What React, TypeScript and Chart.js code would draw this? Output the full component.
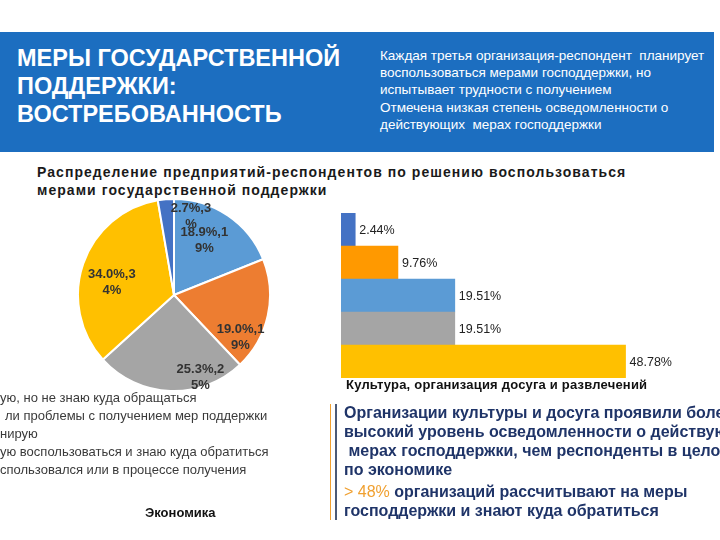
import React, { useEffect, useRef } from "react";
import { Chart, registerables } from "chart.js";

Chart.register(...registerables);

// ---- Data ----
const pieCategories = [
  "Планирую, но не знаю куда обращаться",
  "Были проблемы с получением мер поддержки",
  "Не планирую",
  "Планирую воспользоваться и знаю куда обратиться",
  "Воспользовался или в процессе получения",
];
const pieValues = [18.9, 19.0, 25.3, 34.0, 2.7];
const pieLabelLines = [
  ["18.9%,1", "9%"],
  ["19.0%,1", "9%"],
  ["25.3%,2", "5%"],
  ["34.0%,3", "4%"],
  ["2.7%,3", "%"],
];
const pieColors = ["#5b9bd5", "#ed7d31", "#a5a5a5", "#ffc000", "#4472c4"];

const barCategories = ["a", "b", "c", "d", "e"];
const barValues = [2.44, 9.76, 19.51, 19.51, 48.78];
const barLabels = ["2.44%", "9.76%", "19.51%", "19.51%", "48.78%"];
const barColors = ["#4472c4", "#ff9900", "#5b9bd5", "#a5a5a5", "#ffc000"];

const legendVisibleTexts = [
  "ую, но не знаю куда обращаться",
  "ли проблемы с получением мер поддержки",
  "нирую",
  "ую воспользоваться и знаю куда обратиться",
  "спользовался или в процессе получения",
];

// label placement (style): angle shift in degrees and radius fraction
const PIE_LABEL_SHIFT = [-5, 20, -20, -8, 17];
const PIE_LABEL_RADIUS = [0.65, 0.82, 0.9, 0.66, 0.84];

const pieLabelPlugin = {
  id: "pieLabels",
  afterDatasetsDraw(chart: any) {
    const ctx = chart.ctx;
    const meta = chart.getDatasetMeta(0);
    ctx.save();
    ctx.font = "bold 13px 'Liberation Sans', Arial, sans-serif";
    ctx.fillStyle = "#333333";
    ctx.textAlign = "center";
    ctx.textBaseline = "middle";
    meta.data.forEach((arc: any, i: number) => {
      const p = arc.getProps(["x", "y", "startAngle", "endAngle", "outerRadius"], true);
      const mid = (p.startAngle + p.endAngle) / 2 + (PIE_LABEL_SHIFT[i] * Math.PI) / 180;
      const r = p.outerRadius * PIE_LABEL_RADIUS[i];
      const lx = p.x + Math.cos(mid) * r;
      const ly = p.y + Math.sin(mid) * r;
      const lines = pieLabelLines[i];
      const lh = 16;
      lines.forEach((t, k) => {
        ctx.fillText(t, lx, ly + (k - (lines.length - 1) / 2) * lh);
      });
    });
    ctx.restore();
  },
};

const barLabelPlugin = {
  id: "barLabels",
  afterDatasetsDraw(chart: any) {
    const ctx = chart.ctx;
    const meta = chart.getDatasetMeta(0);
    ctx.save();
    ctx.font = "12.5px 'Liberation Sans', Arial, sans-serif";
    ctx.fillStyle = "#222222";
    ctx.textAlign = "left";
    ctx.textBaseline = "middle";
    meta.data.forEach((bar: any, i: number) => {
      const p = bar.getProps(["x", "y"], true);
      ctx.fillText(barLabels[i], p.x + 4, p.y + 1);
    });
    ctx.restore();
  },
};

function PieChart() {
  const ref = useRef<HTMLCanvasElement>(null);
  useEffect(() => {
    const chart = new Chart(ref.current!, {
      type: "pie",
      data: {
        labels: pieCategories,
        datasets: [
          {
            data: pieValues,
            backgroundColor: pieColors,
            borderColor: "#ffffff",
            borderWidth: 2,
            hoverOffset: 0,
          },
        ],
      },
      options: {
        animation: false,
        responsive: false,
        layout: { padding: 0 },
        plugins: { legend: { display: false }, tooltip: { enabled: false } },
      },
      plugins: [pieLabelPlugin],
    });
    return () => chart.destroy();
  }, []);
  return (
    <canvas
      ref={ref}
      width={194}
      height={194}
      style={{ position: "absolute", left: 77, top: 198, width: 194, height: 194 }}
    />
  );
}

function BarChart() {
  const ref = useRef<HTMLCanvasElement>(null);
  useEffect(() => {
    const chart = new Chart(ref.current!, {
      type: "bar",
      data: {
        labels: barCategories,
        datasets: [
          {
            data: barValues,
            backgroundColor: barColors,
            borderWidth: 0,
            barPercentage: 1,
            categoryPercentage: 1,
          },
        ],
      },
      options: {
        indexAxis: "y",
        animation: false,
        responsive: false,
        layout: { padding: 0 },
        scales: {
          x: { display: false, min: 0, max: 60 },
          y: { display: false },
        },
        plugins: { legend: { display: false }, tooltip: { enabled: false } },
      },
      plugins: [barLabelPlugin],
    });
    return () => chart.destroy();
  }, []);
  return (
    <canvas
      ref={ref}
      width={350}
      height={165}
      style={{ position: "absolute", left: 341, top: 213, width: 350, height: 165 }}
    />
  );
}

export default function App() {
  const font = "'Liberation Sans', Arial, sans-serif";
  return (
    <div
      style={{
        position: "absolute",
        left: 0,
        top: 0,
        width: 720,
        height: 540,
        overflow: "hidden",
        background: "#ffffff",
        fontFamily: font,
      }}
    >
      {/* Header */}
      <div
        style={{
          position: "absolute",
          left: 0,
          top: 32,
          width: 714,
          height: 120,
          background: "#1c6ec0",
        }}
      />
      <div
        style={{
          position: "absolute",
          left: 17,
          top: 44,
          color: "#ffffff",
          fontWeight: "bold",
          fontSize: 23.5,
          lineHeight: "28px",
          whiteSpace: "pre",
        }}
      >
        {"МЕРЫ ГОСУДАРСТВЕННОЙ\nПОДДЕРЖКИ:\nВОСТРЕБОВАННОСТЬ"}
      </div>
      <div
        style={{
          position: "absolute",
          left: 380,
          top: 47,
          color: "#ffffff",
          fontSize: 13.5,
          lineHeight: "17.2px",
          whiteSpace: "pre",
        }}
      >
        {
          "Каждая третья организация-респондент  планирует\nвоспользоваться мерами господдержки, но\nиспытывает трудности с получением\nОтмечена низкая степень осведомленности о\nдействующих  мерах господдержки"
        }
      </div>

      {/* Section title */}
      <div
        style={{
          position: "absolute",
          left: 37,
          top: 163,
          color: "#1a1a1a",
          fontWeight: "bold",
          fontSize: 14,
          letterSpacing: 1.05,
          lineHeight: "18px",
          whiteSpace: "pre",
        }}
      >
        {"Распределение предприятий-респондентов по решению воспользоваться\nмерами государственной поддержки"}
      </div>

      <PieChart />
      <BarChart />

      {/* Legend (cut off at left) */}
      <div
        style={{
          position: "absolute",
          left: 0,
          top: 389,
          color: "#3a3a3a",
          fontSize: 13,
          lineHeight: "18px",
          whiteSpace: "pre",
        }}
      >
        {legendVisibleTexts.map((t, i) => (
          <div key={i} style={{ paddingLeft: i === 1 ? 5 : 0 }}>
            {t}
          </div>
        ))}
      </div>

      <div
        style={{
          position: "absolute",
          left: 145,
          top: 505,
          color: "#111111",
          fontWeight: "bold",
          fontSize: 13,
          whiteSpace: "pre",
        }}
      >
        Экономика
      </div>

      <div
        style={{
          position: "absolute",
          left: 346,
          top: 377,
          color: "#111111",
          fontWeight: "bold",
          fontSize: 13,
          letterSpacing: 0.2,
          whiteSpace: "pre",
        }}
      >
        Культура, организация досуга и развлечений
      </div>

      {/* Conclusion block */}
      <div style={{ position: "absolute", left: 330, top: 404, width: 1, height: 116, background: "#f0a030" }} />
      <div style={{ position: "absolute", left: 335, top: 404, width: 2, height: 116, background: "#4a5a78" }} />
      <div
        style={{
          position: "absolute",
          left: 344,
          top: 403,
          color: "#1f3468",
          fontWeight: "bold",
          fontSize: 16,
          lineHeight: "19px",
          whiteSpace: "pre",
        }}
      >
        <div>Организации культуры и досуга проявили более</div>
        <div>высокий уровень осведомленности о действующих</div>
        <div>{" мерах господдержки, чем респонденты в целом"}</div>
        <div>по экономике</div>
        <div style={{ marginTop: 3 }}>
          <span style={{ color: "#f0a030", fontWeight: "normal" }}>{"> 48%"}</span>
          {" организаций рассчитывают на меры"}
        </div>
        <div>господдержки и знают куда обратиться</div>
      </div>
    </div>
  );
}
